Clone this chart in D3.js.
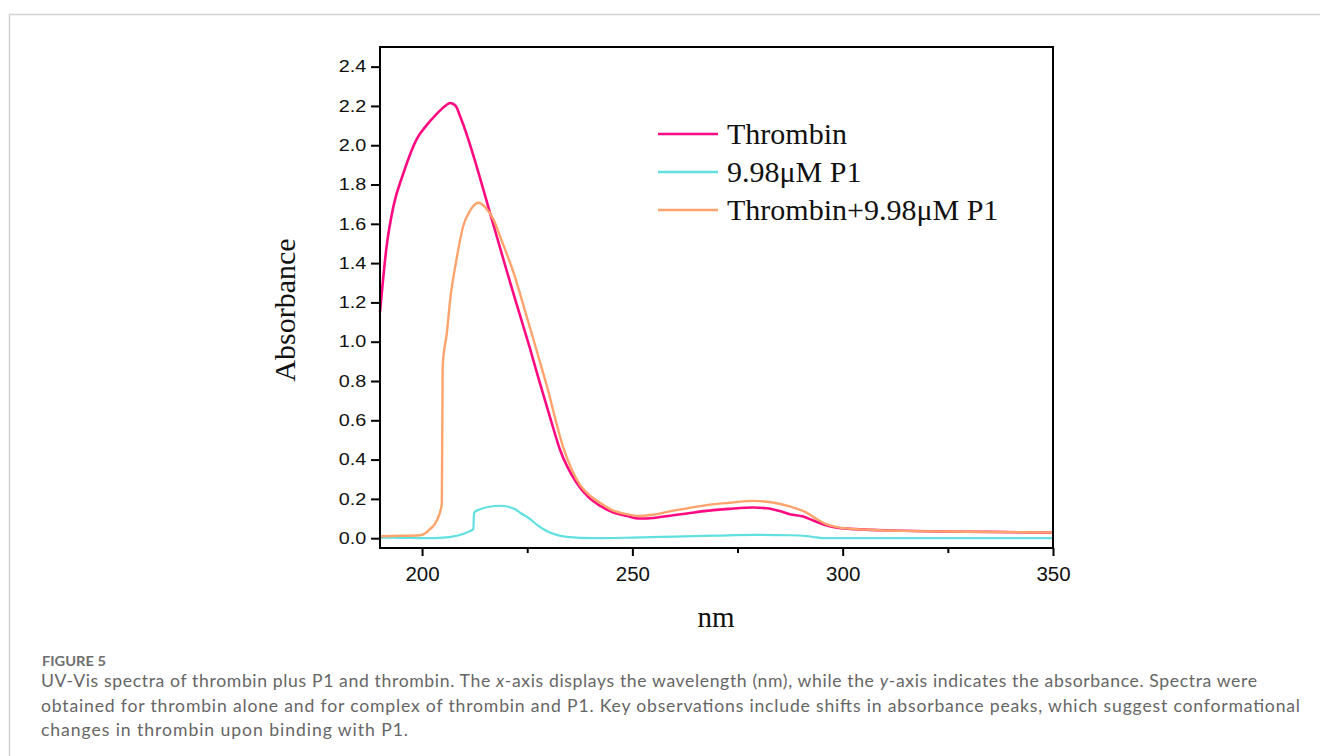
<!DOCTYPE html>
<html lang="en">
<head>
    <meta charset="UTF-8">
    <title>UV-Vis spectra of thrombin</title>
    <script src="https://d3js.org/d3.v7.min.js"></script>
    <style>
        body { margin: 0; background: #fff; }
        .tick text { font-family: "Liberation Sans", Arial, sans-serif; fill: #111; }
        .serif { font-family: "Liberation Serif", "Times New Roman", serif; fill: #111; }
        .caption { font-family: Lato, "Open Sans", sans-serif; fill: #666; }
    </style>
</head>
<body>
    <svg width="1320" height="756"></svg>
    <script>
        // wavelengths (nm) and absorbance
        const thrombinNm = [190, 191.6, 193.2, 195.6, 198.7, 201, 203.5, 205.5, 206.7, 208, 209, 211, 213, 216.9, 220, 222.5, 225.6, 228, 230.5, 232.8, 236.7, 239.5, 242.4, 245.5, 248.7, 251.7, 255, 259.7, 263, 267.6, 273, 278.7, 282, 285, 287.4, 290.6, 293, 295.3, 298, 303, 310, 320, 335, 350];
        const thrombinAbs = [1.15, 1.49, 1.69, 1.86, 2.03, 2.10, 2.16, 2.20, 2.215, 2.20, 2.15, 2.03, 1.89, 1.60, 1.37, 1.19, 0.97, 0.79, 0.61, 0.45, 0.283, 0.21, 0.164, 0.13, 0.113, 0.10, 0.103, 0.117, 0.126, 0.139, 0.149, 0.156, 0.152, 0.138, 0.122, 0.11, 0.09, 0.071, 0.056, 0.046, 0.04, 0.035, 0.032, 0.028];

        const p1Nm = [190, 195, 201, 205, 207.5, 209.5, 210.6, 212.2, 212.35, 213.8, 216, 218.5, 220.5, 222, 223.5, 225.7, 227.5, 229.6, 232, 234.4, 240.7, 250, 260, 270, 278.7, 287.4, 291, 293, 295.3, 310, 350];
        const p1Abs = [0.003, 0.002, 0.0, 0.003, 0.009, 0.02, 0.029, 0.046, 0.13, 0.147, 0.16, 0.165, 0.16, 0.148, 0.127, 0.097, 0.065, 0.037, 0.017, 0.007, 0.0, 0.003, 0.008, 0.013, 0.017, 0.015, 0.012, 0.006, 0.0, 0.0, 0.0];

        const mixNm = [190, 195, 199.5, 201.9, 203.5, 204.7, 204.9, 205.9, 206.7, 208.2, 209.8, 211.5, 213.4, 215, 216.9, 219, 221.7, 224.1, 226.5, 229.6, 233.6, 237.6, 240, 242.3, 245.5, 248.7, 251.7, 255, 259.7, 263, 267.6, 273, 278.7, 283, 287.4, 291.4, 294, 296.1, 299, 303.2, 315, 330, 350];
        const mixAbs = [0.01, 0.012, 0.015, 0.046, 0.09, 0.173, 0.876, 1.046, 1.215, 1.42, 1.59, 1.67, 1.707, 1.685, 1.625, 1.51, 1.355, 1.185, 1.01, 0.78, 0.46, 0.27, 0.215, 0.18, 0.14, 0.122, 0.113, 0.12, 0.14, 0.152, 0.168, 0.18, 0.19, 0.183, 0.162, 0.13, 0.095, 0.071, 0.055, 0.046, 0.037, 0.033, 0.029];

        const seriesNames = ["Thrombin", "9.98\u03bcM P1", "Thrombin+9.98\u03bcM P1"];
        const seriesColors = ["#ff0a80", "#62e0e0", "#ffa36c"];
        const xTicks = [200, 225, 250, 275, 300, 325, 350];
        const xLabels = [200, 250, 300, 350];
        const yTicks = [0, 0.2, 0.4, 0.6, 0.8, 1.0, 1.2, 1.4, 1.6, 1.8, 2.0, 2.2, 2.4];

        const captionLines = [
            ["UV-Vis spectra of thrombin plus P1 and thrombin. The ", "x", "-axis displays the wavelength (nm), while the ", "y", "-axis indicates the absorbance. Spectra were"],
            ["obtained for thrombin alone and for complex of thrombin and P1. Key observations include shifts in absorbance peaks, which suggest conformational"],
            ["changes in thrombin upon binding with P1."]
        ];

        const series = [
            {name: seriesNames[0], color: seriesColors[0], nm: thrombinNm, abs: thrombinAbs, w: 2.6},
            {name: seriesNames[1], color: seriesColors[1], nm: p1Nm, abs: p1Abs, w: 2.2},
            {name: seriesNames[2], color: seriesColors[2], nm: mixNm, abs: mixAbs, w: 2.4}
        ];

        const svg = d3.select("svg");

        // page frame (journal panel border)
        svg.append("line").attr("x1", 9).attr("x2", 1320).attr("y1", 14.5).attr("y2", 14.5)
            .attr("stroke", "#d2d2d2").attr("stroke-width", 1.5);
        svg.append("line").attr("x1", 9.5).attr("x2", 9.5).attr("y1", 14).attr("y2", 756)
            .attr("stroke", "#d2d2d2").attr("stroke-width", 1.5);

        const plot = {left: 380, right: 1053, top: 47, bottom: 548};

        const x = d3.scaleLinear().domain([190, 350]).range([plot.left, plot.right]);
        const y = d3.scaleLinear().domain([-0.05, 2.5]).range([plot.bottom, plot.top]);

        const g = svg.append("g");

        // curves
        const line = d3.line().curve(d3.curveMonotoneX);
        series.forEach(s => {
            g.append("path")
                .datum(s.nm.map((v, i) => [x(v), y(s.abs[i])]))
                .attr("d", line)
                .attr("fill", "none")
                .attr("stroke", s.color)
                .attr("stroke-width", s.w)
                .attr("stroke-linejoin", "round");
        });

        // frame
        g.append("rect")
            .attr("x", plot.left).attr("y", plot.top)
            .attr("width", plot.right - plot.left).attr("height", plot.bottom - plot.top)
            .attr("fill", "none").attr("stroke", "#000").attr("stroke-width", 2);

        // y axis
        const yAxis = g.append("g")
            .attr("transform", `translate(${plot.left},0)`)
            .call(d3.axisLeft(y).tickValues(yTicks).tickFormat(d3.format(".1f")).tickSize(9).tickPadding(6));
        yAxis.select(".domain").remove();
        yAxis.selectAll("line").attr("stroke", "#000").attr("stroke-width", 2);
        yAxis.selectAll("text")
            .style("font-size", "16.5px")
            .attr("x", -11.5)
            .attr("transform", "scale(1.2,1)");

        // x axis: major with labels, minor without
        const xAxis = g.append("g")
            .attr("transform", `translate(0,${plot.bottom})`)
            .call(d3.axisBottom(x).tickValues(xTicks)
                .tickFormat(d => xLabels.includes(d) ? d : "")
                .tickSize(8).tickPadding(10));
        xAxis.select(".domain").remove();
        xAxis.selectAll("line").attr("stroke", "#000").attr("stroke-width", 2)
            .attr("y2", d => xLabels.includes(d) ? 8 : 5);
        xAxis.selectAll("text").style("font-size", "20.5px");

        // axis titles
        svg.append("text").attr("class", "serif")
            .attr("transform", "translate(295,310) rotate(-90)")
            .attr("text-anchor", "middle")
            .style("font-size", "30px")
            .text("Absorbance");
        svg.append("text").attr("class", "serif")
            .attr("x", 716).attr("y", 627)
            .attr("text-anchor", "middle")
            .style("font-size", "29px")
            .text("nm");

        // legend
        const legend = svg.append("g").attr("transform", "translate(658,134)");
        series.forEach((s, i) => {
            const row = legend.append("g").attr("transform", `translate(0,${i * 38})`);
            row.append("line").attr("x1", 0).attr("x2", 60)
                .attr("stroke", s.color).attr("stroke-width", 2.4);
            row.append("text").attr("class", "serif")
                .attr("x", 69).attr("y", 10)
                .style("font-size", "30px")
                .text(s.name);
        });

        // caption
        svg.append("text").attr("class", "caption")
            .attr("x", 42).attr("y", 666)
            .style("font-size", "14px").style("font-weight", 700).style("fill", "#6e6e6e")
            .attr("textLength", 64).attr("lengthAdjust", "spacingAndGlyphs")
            .text("FIGURE 5");
        const lineEnds = [1257, 1300, 408];
        captionLines.forEach((parts, i) => {
            const t = svg.append("text").attr("class", "caption")
                .attr("x", 41).attr("y", 687 + i * 24.5)
                .style("font-size", "17.6px")
                .attr("textLength", lineEnds[i] - 41)
                .attr("lengthAdjust", "spacing");
            parts.forEach((p, j) => {
                t.append("tspan").style("font-style", j % 2 === 1 ? "italic" : "normal").text(p);
            });
        });
    </script>
</body>
</html>
